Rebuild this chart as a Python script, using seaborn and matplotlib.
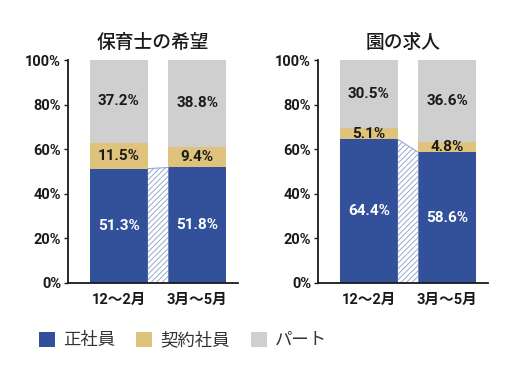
import matplotlib
matplotlib.use("Agg")
import matplotlib.pyplot as plt
from matplotlib.patches import Patch
import seaborn as sns
import pandas as pd
import numpy as np

sns.set_theme(style="white")
plt.rcParams['font.family'] = ['Roboto', 'Noto Sans CJK JP', 'DejaVu Sans']
plt.rcParams['hatch.linewidth'] = 0.7

periods = ["12〜2月", "3月〜5月"]
series_names = ["正社員", "契約社員", "パート"]
titles = ["保育士の希望", "園の求人"]
hope_regular = [51.3, 51.8]
hope_contract = [11.5, 9.4]
hope_part = [37.2, 38.8]
job_regular = [64.4, 58.6]
job_contract = [5.1, 4.8]
job_part = [30.5, 36.6]
yticks = [0, 20, 40, 60, 80, 100]

colors = ["#33509a", "#dfc27c", "#cfcfcf"]
hatch_color = "#97a8d2"
cjk = ['Noto Sans CJK JP', 'DejaVu Sans']
mixed = ['Roboto', 'Noto Sans CJK JP', 'DejaVu Sans']

panels = [
    (titles[0], hope_regular, hope_contract, hope_part),
    (titles[1], job_regular, job_contract, job_part),
]

fig = plt.figure(figsize=(5.12, 3.81), dpi=100)
axes_pos = [[68/512, 1-283/381, 170/512, 223/381],
            [318/512, 1-283/381, 170/512, 223/381]]
W = 0.74

for pos, (title, reg, con, part) in zip(axes_pos, panels):
    ax = fig.add_axes(pos)
    df = pd.DataFrame({
        "period": periods,
        "regular": reg,
        "contract": con,
        "part": part,
    })
    df["c2"] = df["regular"] + df["contract"]
    df["c3"] = df["c2"] + df["part"]
    sns.barplot(data=df, x="period", y="c3", color=colors[2], width=W,
                saturation=1, ax=ax, order=periods)
    sns.barplot(data=df, x="period", y="c2", color=colors[1], width=W,
                saturation=1, ax=ax, order=periods)
    sns.barplot(data=df, x="period", y="regular", color=colors[0], width=W,
                saturation=1, ax=ax, order=periods)
    for p in ax.patches:
        p.set_linewidth(0)
    # hatched connector
    xs = np.array([W/2, 1-W/2])
    ys = np.array(reg)
    ax.fill_between(xs, 0, ys, facecolor="white", edgecolor=hatch_color,
                    hatch="//////", linewidth=0)
    ax.plot(xs, ys, color=hatch_color, lw=0.8)
    # labels
    for i in range(len(periods)):
        segs = [(0, reg[i]), (reg[i], con[i]), (reg[i]+con[i], part[i])]
        for j, (b, v) in enumerate(segs):
            ax.text(i, b + v/2, f"{v:.1f}%", ha="center", va="center",
                    fontsize=11, fontweight="bold", family=mixed,
                    color="white" if j == 0 else "#1a1a1a")
    ax.set_ylim(0, 100)
    ax.set_xlim(-0.65, 1.52)
    ax.set_yticks(yticks)
    ax.set_yticklabels([f"{t}%" for t in yticks], fontsize=10.5,
                       fontweight="bold", color="#1a1a1a", family=mixed)
    ax.set_xticks(range(len(periods)))
    ax.set_xticklabels(periods, fontsize=10.5, fontweight="bold",
                       color="#1a1a1a", family=mixed)
    ax.tick_params(axis="y", length=3, width=1, color="#1a1a1a", pad=2, left=True)
    ax.tick_params(axis="x", length=0, pad=7)
    ax.set_xlabel("")
    ax.set_ylabel("")
    for s in ["top", "right"]:
        ax.spines[s].set_visible(False)
    for s in ["left", "bottom"]:
        ax.spines[s].set_color("#1a1a1a")
        ax.spines[s].set_linewidth(1.3)
    ax.set_title(title, fontsize=13.5, color="#1a1a1a", pad=9, family=cjk,
                 fontweight="medium")

handles = [Patch(facecolor=c, edgecolor="none") for c in colors]
fig.legend(handles, series_names, loc="center left",
           bbox_to_anchor=(0.045, 1-340/381), ncol=3, frameon=False,
           fontsize=12.5, handlelength=0.95, handleheight=0.95,
           handletextpad=0.45, columnspacing=1.2, labelcolor="#333333",
           prop={"family": cjk, "size": 12.5})

fig.savefig("out.png", dpi=100)
